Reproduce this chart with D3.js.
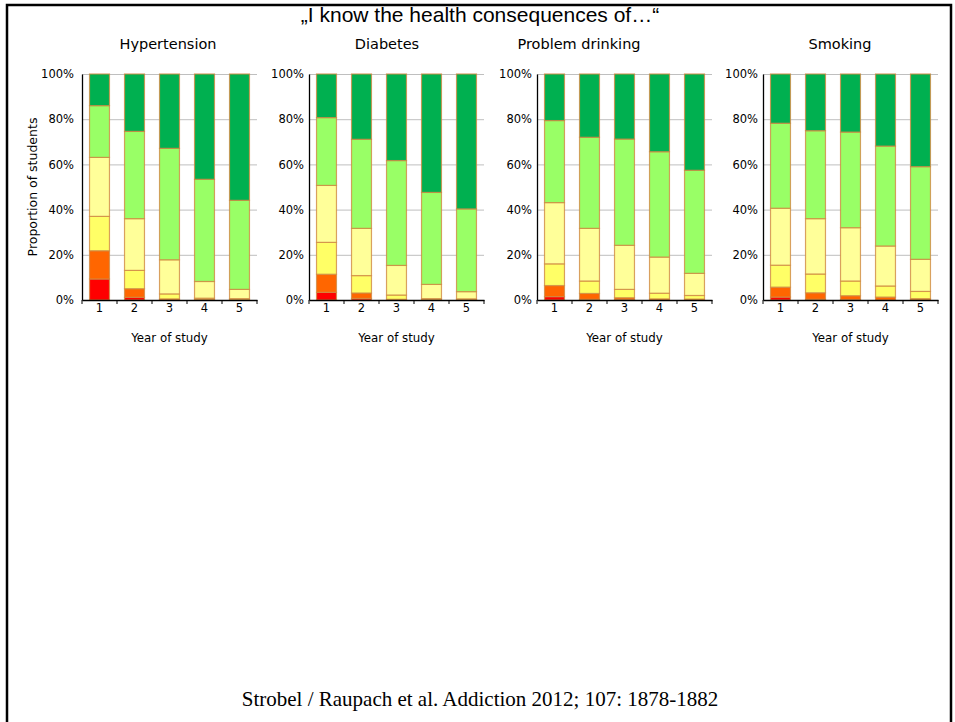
<!DOCTYPE html>
<html>
<head>
<meta charset="utf-8">
<script src="https://cdn.jsdelivr.net/npm/d3@7"></script>
<style>
	body { margin: 0; background: #fff; }
	svg { display: block; }
	.tick text { font-family: 'DejaVu Sans', sans-serif; font-size: 11.5px; fill: #000; }
	.grid line { stroke: #bfbfbf; stroke-width: 1; }
	.labels__text { font-family: 'DejaVu Sans', sans-serif; font-size: 11.8px; fill: #000; }
</style>
</head>
<body>
<svg></svg>
<script>
const years = ['1', '2', '3', '4', '5'];
const categories = ['red', 'orange', 'yellow', 'lightYellow', 'lightGreen', 'darkGreen'];
const colors = ['#ff0000', '#ff6600', '#ffff66', '#ffff99', '#99ff66', '#00b050'];
const yTicks = [0, 20, 40, 60, 80, 100];
const panelTitles = ['Hypertension', 'Diabetes', 'Problem drinking', 'Smoking'];

// percent of students per answer category, years 1..5
const hypertension = [
	[9.3, 1.2, 0.1, 0, 0],
	[12.5, 3.8, 0.4, 0.3, 0.1],
	[15.2, 8.1, 2.2, 0.5, 0.5],
	[26.1, 22.9, 15.1, 7.4, 4.1],
	[22.9, 38.6, 49.3, 45.2, 39.4],
	[14.0, 25.4, 32.9, 46.6, 55.9]
];
const diabetes = [
	[3.4, 0.7, 0, 0, 0],
	[8.0, 2.4, 0.3, 0.2, 0.1],
	[14.1, 7.7, 1.9, 0.4, 0.4],
	[25.2, 20.9, 13.1, 6.3, 3.2],
	[30.0, 39.4, 46.4, 40.7, 36.6],
	[19.3, 28.9, 38.3, 52.4, 59.7]
];
const problemDrinking = [
	[1.5, 0.3, 0.2, 0, 0],
	[4.9, 2.6, 0.8, 0.5, 0.4],
	[9.6, 5.5, 3.7, 2.5, 1.6],
	[27.1, 23.3, 19.5, 16.0, 9.8],
	[36.3, 40.3, 47.0, 46.6, 45.6],
	[20.6, 28.0, 28.8, 34.4, 42.6]
];
const smoking = [
	[1.3, 0.3, 0.2, 0, 0.1],
	[4.4, 2.9, 1.7, 1.3, 0.5],
	[9.7, 8.3, 6.5, 4.9, 3.2],
	[25.2, 24.5, 23.6, 17.7, 14.2],
	[37.6, 38.9, 42.3, 44.2, 41.0],
	[21.8, 25.1, 25.7, 31.9, 41.0]
];
const panelData = [hypertension, diabetes, problemDrinking, smoking];

const width = 955;
const height = 722;
const plotTop = 74;
const plotBottom = 300;
const panelLeft = [82, 309, 537, 763];
const panelWidth = 175;
const titleCenter = [168, 387, 579, 840];

const svg = d3.select('svg')
	.attr('width', width)
	.attr('height', height);

// slide frame
svg.append('rect')
	.attr('x', 7)
	.attr('y', 5)
	.attr('width', 944)
	.attr('height', 740)
	.attr('fill', 'none')
	.attr('stroke', '#000')
	.attr('stroke-width', 2.5);

svg.append('text')
	.attr('x', 480)
	.attr('y', 22)
	.attr('text-anchor', 'middle')
	.style('font-family', "'Liberation Sans', Arial, sans-serif")
	.style('font-size', '21px')
	.text('\u201EI know the health consequences of\u2026\u201C');

const yScale = d3.scaleLinear()
	.domain([0, 100])
	.range([plotBottom - plotTop, 0]);

panelData.forEach((rows, p) => {
	const innerWidth = panelWidth;
	const innerHeight = plotBottom - plotTop;

	const table = years.map((yr, i) => {
		const row = { year: yr };
		categories.forEach((c, k) => row[c] = rows[k][i]);
		return row;
	});
	const stacked = d3.stack().keys(categories)(table);

	const xScale = d3.scaleBand()
		.domain(years)
		.range([0, innerWidth])
		.paddingInner(0.43)
		.paddingOuter(0.215);

	const g = svg.append('g')
		.attr('transform', `translate(${panelLeft[p]},${plotTop})`);

	const grid = g.append('g')
		.attr('class', 'grid')
		.call(d3.axisLeft(yScale).tickValues(yTicks.slice(1)).tickSize(-innerWidth).tickFormat(''));
	grid.select('.domain').remove();

	const yAxisGroup = g.append('g')
		.call(d3.axisLeft(yScale).tickValues(yTicks).tickSize(0).tickPadding(p === 0 ? 8 : 5).tickFormat(d => d + '%'));
	yAxisGroup.select('.domain').attr('stroke', '#000').attr('stroke-width', 1.3);

	g.selectAll('g.layer').data(stacked)
		.enter().append('g')
			.attr('class', 'layer')
			.attr('fill', (d, i) => colors[i])
		.selectAll('rect').data(d => d)
		.enter().append('rect')
			.attr('x', d => xScale(d.data.year))
			.attr('width', xScale.bandwidth())
			.attr('y', d => yScale(d[1]))
			.attr('height', d => yScale(d[0]) - yScale(d[1]))
			.attr('stroke', '#cf8a42')
			.attr('stroke-opacity', 0.8)
			.attr('stroke-width', 1.2);

	const xAxis = d3.axisBottom(xScale).tickSize(0).tickPadding(4);
	const xAxisGroup = g.append('g')
		.attr('transform', `translate(0,${innerHeight})`)
		.call(xAxis);
	xAxisGroup.select('.domain').attr('stroke', '#000').attr('stroke-width', 1.3);

	// tick marks between categories
	const step = xScale.step();
	xAxisGroup.selectAll('line.sep').data(d3.range(years.length + 1))
		.enter().append('line')
			.attr('class', 'sep')
			.attr('x1', i => i * step)
			.attr('x2', i => i * step)
			.attr('y1', 0)
			.attr('y2', 4)
			.attr('stroke', '#000');

	xAxisGroup.append('text')
		.attr('class', 'labels__text')
		.attr('x', innerWidth / 2)
		.attr('y', 42)
		.attr('text-anchor', 'middle')
		.text('Year of study');

	g.append('text')
		.attr('class', 'labels__text')
		.attr('x', titleCenter[p] - panelLeft[p])
		.attr('y', -25)
		.attr('text-anchor', 'middle')
		.style('font-size', '14.5px')
		.text(panelTitles[p]);

	if (p === 0) {
		g.append('text')
			.attr('class', 'labels__text')
			.attr('transform', `translate(-45,${innerHeight / 2}) rotate(-90)`)
			.attr('text-anchor', 'middle')
			.style('font-size', '12.5px')
			.text('Proportion of students');
	}
});

svg.append('text')
	.attr('x', 480)
	.attr('y', 706)
	.attr('text-anchor', 'middle')
	.style('font-family', "'Liberation Serif', 'Times New Roman', serif")
	.style('font-size', '21px')
	.text('Strobel / Raupach et al. Addiction 2012; 107: 1878-1882');
</script>
</body>
</html>
